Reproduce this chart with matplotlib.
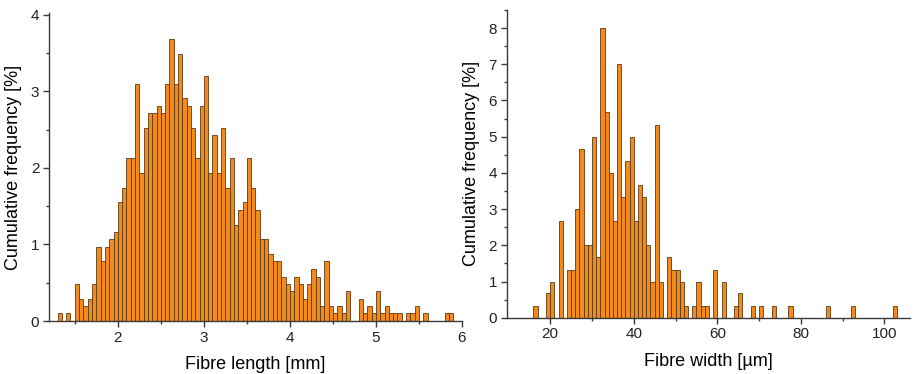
import numpy as np
import matplotlib.pyplot as plt
from matplotlib.ticker import MultipleLocator, FixedLocator

plt.rcParams['font.family'] = 'Liberation Sans'

# fibre length histogram: 0.05 mm bins, first bin starts at 1.30 mm
length_start = 1.30
length_bin = 0.05
length_freq = [0.1, 0, 0.1, 0, 0.48, 0.29, 0.19, 0.29, 0.48, 0.97,
               0.78, 0.97, 1.07, 1.16, 1.55, 1.74, 2.13, 2.13, 3.1, 1.94,
               2.52, 2.72, 2.72, 2.81, 2.72, 3.1, 3.69, 3.1, 3.49, 2.91,
               2.81, 2.52, 2.13, 2.81, 3.2, 1.94, 2.43, 1.94, 2.52, 1.74,
               2.13, 1.26, 1.45, 1.55, 2.13, 1.74, 1.45, 1.07, 1.07, 0.87,
               0.78, 0.78, 0.58, 0.48, 0.39, 0.58, 0.48, 0.29, 0.48, 0.68,
               0.58, 0.19, 0.78, 0.19, 0.1, 0.19, 0.1, 0.39, 0, 0,
               0.29, 0.1, 0.19, 0.1, 0.39, 0.1, 0.19, 0.1, 0.1, 0.1,
               0, 0.1, 0.1, 0.19, 0, 0.1, 0, 0, 0, 0,
               0.1, 0.1]
length_edges = np.round(length_start + length_bin * np.arange(len(length_freq)), 2)

# fibre width histogram: 1 um bins, only the non-empty ones
width_edges = [16, 19, 20, 22, 24, 25, 26, 27, 28, 29,
               30, 31, 32, 33, 34, 35, 36, 37, 38, 39, 40, 41, 42, 43, 44, 45, 46,
               48, 49, 50, 51, 52, 54, 55, 56, 57, 59, 61, 64, 65,
               68, 70, 73, 77, 86, 92, 102]
width_freq = [0.33, 0.67, 1.0, 2.67, 1.33, 1.33, 3.0, 4.67, 2.0, 2.0,
              5.0, 1.67, 8.0, 5.67, 4.0, 2.67, 7.0, 3.33, 4.33, 5.0, 2.67, 3.67, 3.33, 2.0, 1.0, 5.33, 1.0,
              1.67, 1.33, 1.33, 1.0, 0.33, 0.33, 1.0, 0.33, 0.33, 1.33, 1.0, 0.33, 0.67,
              0.33, 0.33, 0.33, 0.33, 0.33, 0.33, 0.33]

bar_color = '#f28a1d'
edge_color = '#5c3a16'
axis_color = '#3a3a3a'

fig = plt.figure(figsize=(9.19, 3.74), dpi=100)
ax1 = fig.add_axes([0.0533, 0.1417, 0.4494, 0.8227])
ax2 = fig.add_axes([0.5514, 0.1505, 0.4383, 0.8228])

ax1.bar(length_edges, length_freq, width=length_bin, align='edge',
        color=bar_color, edgecolor=edge_color, linewidth=0.6)
ax2.bar(width_edges, width_freq, width=1, align='edge',
        color=bar_color, edgecolor=edge_color, linewidth=0.6)

ax1.set_xlim(1.2, 6.0)
ax1.set_ylim(0, 4.02)
ax1.xaxis.set_major_locator(MultipleLocator(1))
ax1.xaxis.set_minor_locator(MultipleLocator(0.5))
ax1.yaxis.set_major_locator(MultipleLocator(1))
ax1.yaxis.set_minor_locator(MultipleLocator(0.5))
ax1.set_xlabel('Fibre length [mm]', fontsize=13, labelpad=8)
ax1.set_ylabel('Cumulative frequency [%]', fontsize=13, labelpad=6)

ax2.set_xlim(9.6, 106)
ax2.set_ylim(0, 8.5)
ax2.xaxis.set_major_locator(FixedLocator([20, 40, 60, 80, 100]))
ax2.xaxis.set_minor_locator(FixedLocator([30, 50, 70, 90]))
ax2.yaxis.set_major_locator(MultipleLocator(1))
ax2.yaxis.set_minor_locator(MultipleLocator(0.5))
ax2.set_xlabel('Fibre width [\u00b5m]', fontsize=13, labelpad=8)
ax2.set_ylabel('Cumulative frequency [%]', fontsize=13, labelpad=6)

for ax in (ax1, ax2):
    ax.spines['top'].set_visible(False)
    ax.spines['right'].set_visible(False)
    for s in ('left', 'bottom'):
        ax.spines[s].set_color(axis_color)
        ax.spines[s].set_linewidth(1.0)
    ax.tick_params(which='major', direction='out', length=4, width=1,
                   color=axis_color, labelsize=11, labelcolor='#222222', pad=3)
    ax.tick_params(which='minor', direction='out', length=2.5, width=1,
                   color=axis_color)

fig.savefig('out.png', dpi=100)
